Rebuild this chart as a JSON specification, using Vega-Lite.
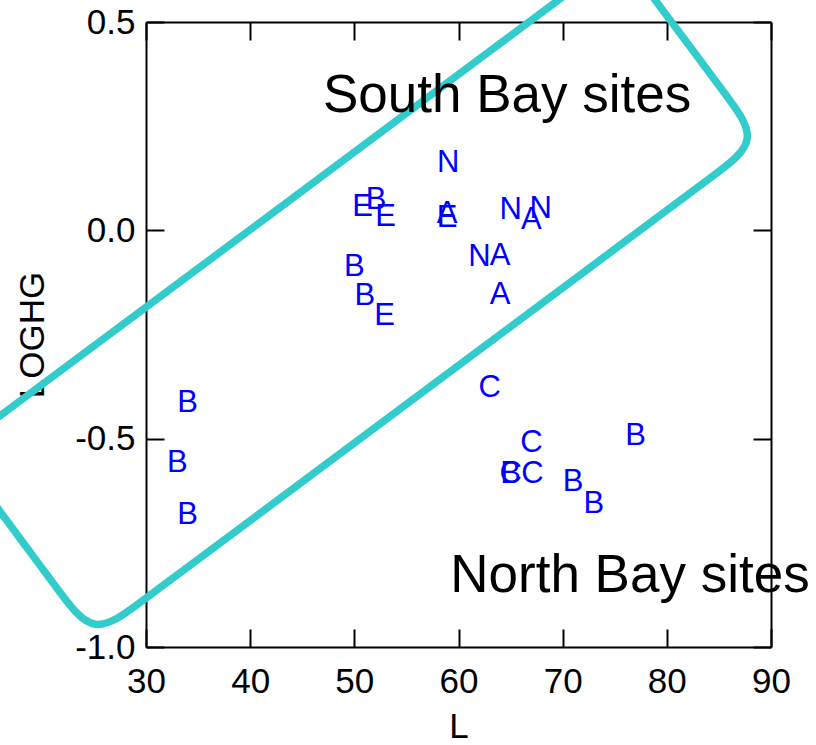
{
  "$schema": "https://vega.github.io/schema/vega-lite/v6.json",
  "width": 625,
  "height": 625,
  "autosize": {"type": "none"},
  "padding": {"left": 146, "top": 22, "right": 45, "bottom": 98},
  "background": "white",
  "config": {
    "view": {"stroke": null},
    "font": "Liberation Sans",
    "axis": {
      "domainColor": "black",
      "domainWidth": 2,
      "tickColor": "black",
      "tickWidth": 2,
      "tickSize": -18,
      "labelFontSize": 35,
      "labelColor": "black",
      "labelFont": "Liberation Sans",
      "titleFont": "Liberation Sans",
      "titleFontSize": 35,
      "titleFontWeight": "normal",
      "titleColor": "black",
      "grid": false,
      "labelFlush": false,
      "labelOverlap": false
    }
  },
  "datasets": {
    "box": [
      {"i": 1, "L": 18.66, "LOGHG": -0.765},
      {"i": 2, "L": 21.81, "LOGHG": -0.871},
      {"i": 3, "L": 24.97, "LOGHG": -0.976},
      {"i": 4, "L": 29.20, "LOGHG": -0.897},
      {"i": 5, "L": 33.44, "LOGHG": -0.819},
      {"i": 6, "L": 80.48, "LOGHG": 0.057},
      {"i": 7, "L": 84.71, "LOGHG": 0.136},
      {"i": 8, "L": 88.94, "LOGHG": 0.215},
      {"i": 9, "L": 85.78, "LOGHG": 0.321},
      {"i": 10, "L": 82.64, "LOGHG": 0.427},
      {"i": 11, "L": 81.87, "LOGHG": 0.4525},
      {"i": 12, "L": 78.72, "LOGHG": 0.558},
      {"i": 13, "L": 75.56, "LOGHG": 0.664},
      {"i": 14, "L": 71.33, "LOGHG": 0.585},
      {"i": 15, "L": 67.09, "LOGHG": 0.506},
      {"i": 16, "L": 20.05, "LOGHG": -0.370},
      {"i": 17, "L": 15.82, "LOGHG": -0.448},
      {"i": 18, "L": 11.59, "LOGHG": -0.527},
      {"i": 19, "L": 14.75, "LOGHG": -0.633},
      {"i": 20, "L": 17.90, "LOGHG": -0.739}
    ],
    "sites": [
      {"site": "N", "L": 59.0, "LOGHG": 0.161},
      {"site": "E", "L": 50.8, "LOGHG": 0.056},
      {"site": "B", "L": 52.1, "LOGHG": 0.073},
      {"site": "E", "L": 53.0, "LOGHG": 0.033},
      {"site": "A", "L": 58.9, "LOGHG": 0.039},
      {"site": "E", "L": 58.9, "LOGHG": 0.029},
      {"site": "N", "L": 65.0, "LOGHG": 0.049},
      {"site": "A", "L": 67.0, "LOGHG": 0.026},
      {"site": "N", "L": 67.9, "LOGHG": 0.051},
      {"site": "N", "L": 62.0, "LOGHG": -0.064},
      {"site": "A", "L": 64.0, "LOGHG": -0.062},
      {"site": "B", "L": 50.0, "LOGHG": -0.088},
      {"site": "B", "L": 51.0, "LOGHG": -0.157},
      {"site": "E", "L": 52.9, "LOGHG": -0.205},
      {"site": "A", "L": 64.0, "LOGHG": -0.154},
      {"site": "C", "L": 63.0, "LOGHG": -0.379},
      {"site": "B", "L": 34.0, "LOGHG": -0.415},
      {"site": "B", "L": 33.0, "LOGHG": -0.559},
      {"site": "B", "L": 34.0, "LOGHG": -0.683},
      {"site": "C", "L": 67.0, "LOGHG": -0.510},
      {"site": "B", "L": 77.0, "LOGHG": -0.493},
      {"site": "C", "L": 65.0, "LOGHG": -0.585},
      {"site": "B", "L": 65.0, "LOGHG": -0.585},
      {"site": "C", "L": 67.1, "LOGHG": -0.585},
      {"site": "B", "L": 71.0, "LOGHG": -0.605},
      {"site": "B", "L": 73.0, "LOGHG": -0.657}
    ],
    "notes": [
      {"text": "South Bay sites", "L": 64.66, "LOGHG": 0.285},
      {"text": "North Bay sites", "L": 76.46, "LOGHG": -0.868}
    ]
  },
  "layer": [
    {
      "data": {"name": "box"},
      "mark": {"type": "line", "interpolate": "basis-closed", "stroke": "#33cccc", "strokeWidth": 7.5, "clip": false},
      "encoding": {
        "x": {
          "field": "L", "type": "quantitative",
          "scale": {"domain": [30, 90], "nice": false, "zero": false},
          "axis": {"orient": "bottom", "values": [30, 40, 50, 60, 70, 80, 90], "format": "d", "labelPadding": 35, "title": "L", "titleY": 90, "titleBaseline": "alphabetic"}
        },
        "y": {
          "field": "LOGHG", "type": "quantitative",
          "scale": {"domain": [-1, 0.5], "nice": false, "zero": false},
          "axis": {"orient": "left", "values": [-1, -0.5, 0, 0.5], "labelExpr": "datum.value < 0 ? '-' + format(-datum.value, '.1f') : format(datum.value, '.1f')", "labelPadding": 29, "title": "LOGHG", "titleX": -103, "titleAngle": 270, "titleBaseline": "alphabetic"}
        },
        "order": {"field": "i", "type": "quantitative"}
      }
    },
    {
      "data": {"name": "sites"},
      "mark": {"type": "text", "font": "Liberation Sans", "fontSize": 31, "color": "#0000ff", "align": "center", "baseline": "middle"},
      "encoding": {
        "x": {
          "field": "L", "type": "quantitative",
          "scale": {"domain": [30, 90], "nice": false, "zero": false},
          "axis": {"orient": "top", "values": [30, 40, 50, 60, 70, 80, 90], "labels": false, "title": null}
        },
        "y": {
          "field": "LOGHG", "type": "quantitative",
          "scale": {"domain": [-1, 0.5], "nice": false, "zero": false},
          "axis": {"orient": "right", "values": [-1, -0.5, 0, 0.5], "labels": false, "title": null, "zindex": 1}
        },
        "text": {"field": "site", "type": "nominal"}
      }
    },
    {
      "data": {"name": "notes"},
      "mark": {"type": "text", "font": "Liberation Sans", "fontSize": 53, "color": "black", "align": "center", "baseline": "alphabetic"},
      "encoding": {
        "x": {"field": "L", "type": "quantitative", "scale": {"domain": [30, 90], "nice": false, "zero": false}, "axis": null},
        "y": {"field": "LOGHG", "type": "quantitative", "scale": {"domain": [-1, 0.5], "nice": false, "zero": false}, "axis": null},
        "text": {"field": "text", "type": "nominal"}
      }
    }
  ]
}
